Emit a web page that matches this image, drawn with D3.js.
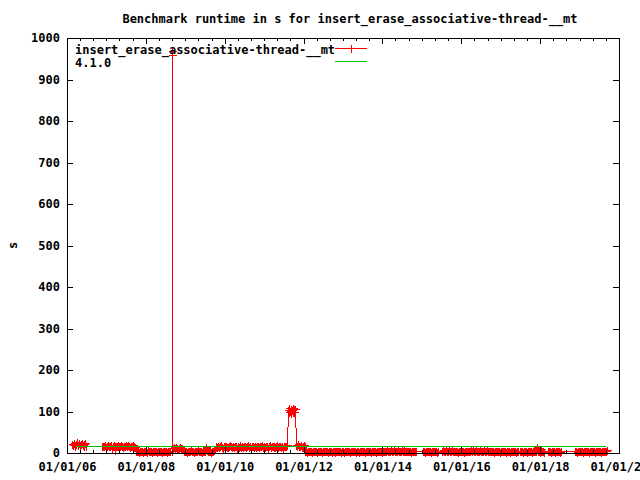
<!DOCTYPE html>
<html>
<head>
<meta charset="utf-8">
<script src="https://cdn.jsdelivr.net/npm/d3@7"></script>
<style>
  body { margin: 0; background: #fff; }
  svg text { font-family: "DejaVu Sans Mono", monospace; font-weight: bold; font-size: 12px; fill: #000; }
</style>
</head>
<body>
<svg id="chart" width="640" height="480"></svg>
<script>
const title = "Benchmark runtime in s for insert_erase_associative-thread-__mt";
const yLabel = "s";
const seriesNames = ["insert_erase_associative-thread-__mt", "4.1.0"];
const seriesColors = ["#ff0000", "#00c000"];
const xTickDates = ["2006-01-01", "2008-01-01", "2010-01-01", "2012-01-01", "2014-01-01", "2016-01-01", "2018-01-01", "2020-01-01"];
const yTicks = [0, 100, 200, 300, 400, 500, 600, 700, 800, 900, 1000];

// runtime samples: one run every `step` days from `start`, null = no run
const run2006 = { start: "2006-02-15", step: 9, values: [21, 19, 24, 18, 22, 26, 20, 23, 17, 22, 25, 19, 21, 18, 23, 16] };
const run2007 = { start: "2006-11-20", step: 9, values: [
  16, 18, 17, 19, 15, 18, 20, 17, 16, 19, 10, 18, 19, 17, 8, 17, 18, 20, 16, 17,
  19, 18, 15, 17, 18, 20, 16, 19, 17, 15, 18, 16, 19, 17, 14] };
const run2008a = { start: "2007-10-06", step: 9, values: [
  6, 4, 5, 3, 6, 4, 5, 2, 6, 4, 5, 3, 7, 4, 5, 6, 3, 5, 4, 6,
  5, 3, 5, 4, 6, 5, 3, 4, 6, 5, 4, 3, 5, 6, 4, 5] };
const spike2008 = { start: "2008-08-28", step: 1, values: [5, 969, 959, 6] };
const run2008b = { start: "2008-09-05", step: 9, values: [
  12, 14, 11, 13, 15, 12, 10, 13, 14, 11, 12, 9, 6, 4, 5, 3, 6, 4, 5, 7,
  4, 5, 3, 6, 4, 5, 8, 4, 6, 5, 3, 5, 4, 6, 14, 7, 5, 6, 4, 5, 3, 6, 4, 7] };
const run2010 = { start: "2009-10-14", step: 9, values: [
  17, 15, 18, 14, 16, 19, 15, 13, 17, 16, 18, 14, 15, 17, 19, 16, 14, 18, 15, 17,
  16, 13, 18, 15, 17, 19, 14, 16, 15, 18, 17, 14, 16, 19, 15, 17, 13, 16, 18, 15,
  17, 14, 16, 18, 15, 17, 16, 19, 14, 17, 15, 18, 16, 13, 17, 19, 15, 16, 18, 14,
  17, 15, 16, 19, 14, 17, 18, 15, 16, 13, 17, 18, 16, 20] };
const run2011 = { start: "2011-08-10", step: 6, values: [104, 99, 108, 101, 106, 97, 103, 109, 100, 105, 98, 106] };
const run2011b = { start: "2011-10-22", step: 9, values: [19, 17, 21, 16, 18, 20, 15, 17, 19, 16] };
const run2012 = { start: "2012-01-18", step: 9, values: [
  5, 4, 3, 5, 6, 4, 5, 3, 4, 5, 6, 4, 3, 5, 4, 6, 5, 3, 4, 5,
  4, 6, 5, 3, 4, 5, 4, 2, 5, 6, 4, 3, 5, 4, 6, 4, 5, 3, 5, 4,
  3, 5, 4, 6, 4, 5, 3, 4, 5, 6, 4, 5, 3, 5, 4, 2, 5, 4, 6, 5,
  4, 3, 5, 4, 6, 5, 4, 5, 3, 4, 6, 5, 4, 3, 5, 4, 5, 6, 4, 3,
  5, 4, 6, 5, 7, 5, 6, 4, 7, 5, 6, 7, 5, 6, 4, 7, 5, 6, 5, 7,
  6, 5, 7, 6, 4, 5, 6, 4, 5, 3, 5, 4, 6, 5, 4, null, null, null, null, null,
  null, 4, 5, 3, 5, 4, 6, 4, 5, 3, 4, 5, 4, 6, 5, 3, 4, 5, null, null,
  null, 6, 7, 5, 6, 8, 6, 5, 7, 6, 5, 7, 4, 5, 6, 4, 5, 3, 5, 4,
  6, 4, 5, 3, 4, 6, 5, 4, 5, 6, 7, 5, 6, 7, 5, 6, 7, 5, 6, 5,
  7, 6, 5, 6, 7, 5, 6, 7, 6, 5, 6, 5, 4, 5, 3, 4, 5, 4, 6, 5,
  3, 5, 4, 6, 4, 5, 3, 4, 5, 4, 6, 3, 5, 4, 5, 6, 4, 3, 5, 4,
  null, 5, 4, 6, 3, 5, 4, 5, 3, 4, 6, 5, 4, 3, 5, 4, 6, 5, 15, 4,
  5, 3, 4, 10, 5, 4, 3, null, null, null, 5, 4, 6, 3, 5, 4, 5, 3, 4, 6,
  4, 5, 3, 5, null, null, null, null, null, null, null, null, null, null, null, null, null, null, 4, 5,
  3, 5, 4, 6, 4, 5, 3, 4, 5, 6, 4, 5, 3, 4, 6, 5, 4, 5, 3, 4,
  5, 4, 6, 5, 3, 5, 4, 6, 5, 4, 7] };
const runs = [run2006, run2007, run2008a, spike2008, run2008b, run2010, run2011, run2011b, run2012];

// reference runtime of release 4.1.0
const refDates = ["2006-03-15", "2019-08-20"];
const refValues = [16, 16];

const parse = d3.timeParse("%Y-%m-%d");
const runData = runs.flatMap(r => r.values.map((v, i) => ({
  date: d3.timeDay.offset(parse(r.start), i * r.step), value: v
}))).filter(d => d.value !== null);
const refData = refDates.map((d, i) => ({ date: parse(d), value: refValues[i] }));

const svg = d3.select("#chart");
const plotLeft = 67, plotRight = 619, plotTop = 38, plotBottom = 453;

const x = d3.scaleTime()
  .domain([parse("2006-01-01"), parse("2020-01-01")])
  .range([plotLeft, plotRight]);
const y = d3.scaleLinear()
  .domain([0, 1000])
  .range([plotBottom, plotTop]);

const px = v => Math.round(v) + 0.5;

const line = d3.line()
  .x(d => px(x(d.date)))
  .y(d => px(y(d.value)));

const g = svg.append("g").attr("shape-rendering", "crispEdges");

// red run series
g.append("path")
  .datum(runData)
  .attr("d", line)
  .attr("fill", "none")
  .attr("stroke", seriesColors[0]);

g.append("g").selectAll("path")
  .data(runData)
  .enter().append("path")
  .attr("d", d => {
    const cx = px(x(d.date)), cy = px(y(d.value));
    return `M${cx - 4},${cy}H${cx + 4}M${cx},${cy - 4}V${cy + 4}`;
  })
  .attr("stroke", seriesColors[0]);

// green reference
g.append("path")
  .datum(refData)
  .attr("d", line)
  .attr("fill", "none")
  .attr("stroke", seriesColors[1]);

// frame
g.append("rect")
  .attr("x", plotLeft + 0.5).attr("y", plotTop + 0.5)
  .attr("width", plotRight - plotLeft).attr("height", plotBottom - plotTop)
  .attr("fill", "none").attr("stroke", "#000");

// axes, ticks pointing inward
const majors = xTickDates.map(parse);
const minors = d3.timeMonth.every(4).range(x.domain()[0], x.domain()[1]);

const xAxisG = g.append("g")
  .attr("transform", `translate(0,${plotBottom})`)
  .call(d3.axisBottom(x).tickValues(majors).tickFormat(d3.timeFormat("%m/%d/%y")).tickSize(-6).tickPadding(9));
const xMinorG = g.append("g")
  .attr("transform", `translate(0,${plotBottom})`)
  .call(d3.axisBottom(x).tickValues(minors).tickFormat("").tickSize(-3));
const xTopG = g.append("g")
  .attr("transform", `translate(0,${plotTop})`)
  .call(d3.axisTop(x).tickValues(majors).tickFormat("").tickSize(-6));
const xTopMinorG = g.append("g")
  .attr("transform", `translate(0,${plotTop})`)
  .call(d3.axisTop(x).tickValues(minors).tickFormat("").tickSize(-3));

const yAxisG = g.append("g")
  .attr("transform", `translate(${plotLeft},0)`)
  .call(d3.axisLeft(y).tickValues(yTicks).tickFormat(d3.format("d")).tickSize(-6).tickPadding(7));
const yRightG = g.append("g")
  .attr("transform", `translate(${plotRight},0)`)
  .call(d3.axisRight(y).tickValues(yTicks).tickFormat("").tickSize(-6));

[xAxisG, xMinorG, xTopG, xTopMinorG, yAxisG, yRightG].forEach(a => {
  a.select(".domain").remove();
  a.selectAll("line").attr("stroke", "#000");
});
xAxisG.selectAll("text").attr("dy", null).attr("y", 18);

// title and y label
svg.append("text")
  .attr("x", (plotLeft + plotRight) / 2 + 7).attr("y", 23)
  .attr("text-anchor", "middle")
  .text(title);

svg.append("text")
  .attr("transform", `translate(17,${(plotTop + plotBottom) / 2}) rotate(-90)`)
  .attr("text-anchor", "middle")
  .text(yLabel);

// legend
const legend = svg.append("g").attr("shape-rendering", "crispEdges");
seriesNames.forEach((name, i) => {
  const ly = 48.5 + i * 13;
  legend.append("text")
    .attr("x", 75).attr("y", ly + 5)
    .text(name);
  legend.append("line")
    .attr("x1", 335).attr("x2", 367)
    .attr("y1", ly).attr("y2", ly)
    .attr("stroke", seriesColors[i]);
  if (i === 0) {
    legend.append("path")
      .attr("d", `M351.5,${ly - 4}V${ly + 4}`)
      .attr("stroke", seriesColors[i]);
  }
});
</script>
</body>
</html>
